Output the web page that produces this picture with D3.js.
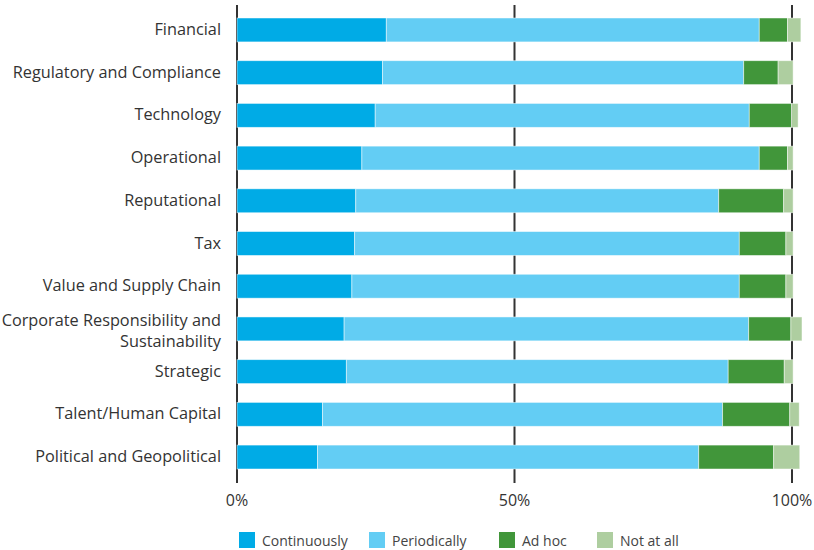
<!DOCTYPE html>
<html>
<head>
<meta charset="utf-8">
<script src="https://cdn.jsdelivr.net/npm/d3@7"></script>
<style>
  body { margin: 0; background: #fff; }
  svg text { font-family: "Open Sans", "Noto Sans", sans-serif; fill: #333; }
</style>
</head>
<body>
<svg id="chart" width="814" height="550"></svg>
<script>
// categories, top to bottom
const categories = [
    "Financial", "Regulatory and Compliance", "Technology", "Operational",
    "Reputational", "Tax", "Value and Supply Chain",
    "Corporate Responsibility and Sustainability", "Strategic",
    "Talent/Human Capital", "Political and Geopolitical"
];
const seriesNames = ["Continuously", "Periodically", "Ad hoc", "Not at all"];
const continuously = [26.9, 26.2, 24.9, 22.5, 21.4, 21.2, 20.7, 19.3, 19.7, 15.4, 14.5];
const periodically = [67.2, 65.1, 67.4, 71.6, 65.4, 69.3, 69.8, 72.9, 68.8, 72.1, 68.7];
const adHoc        = [5.1, 6.2, 7.6, 5.1, 11.7, 8.4, 8.4, 7.6, 10.1, 12.1, 13.5];
const notAtAll     = [2.4, 2.7, 1.2, 1.0, 1.7, 1.3, 1.3, 2.0, 1.6, 1.7, 4.7];
const xTicks = [0, 50, 100];
const colors = ["#00abe6", "#63cdf4", "#41963a", "#aecea0"];

const svg = d3.select("#chart");
const margin = {left: 237, top: 8.6, bottom: 71.6};

const rows = categories.map((c, i) => ({
    category: c,
    "Continuously": continuously[i],
    "Periodically": periodically[i],
    "Ad hoc": adHoc[i],
    "Not at all": notAtAll[i]
}));

const stacked = d3.stack().keys(seriesNames)(rows);

const x = d3.scaleLinear().domain([0, 100]).range([margin.left, 792]);
const y = d3.scaleBand().domain(categories)
    .range([margin.top, 550 - margin.bottom])
    .paddingInner(0.44).paddingOuter(0.22);

// vertical grid lines (behind bars)
svg.append("g")
    .selectAll("line")
    .data(xTicks)
    .join("line")
    .attr("x1", d => x(d)).attr("x2", d => x(d))
    .attr("y1", 5).attr("y2", 483)
    .attr("stroke", "#333")
    .attr("stroke-width", 2);

// bars
svg.append("g")
    .selectAll("g")
    .data(stacked)
    .join("g")
    .attr("fill", (d, i) => colors[i])
    .selectAll("rect")
    .data(d => d)
    .join("rect")
    .attr("x", d => x(d[0]))
    .attr("width", d => x(d[1]) - x(d[0]))
    .attr("y", d => y(d.data.category))
    .attr("height", y.bandwidth())
    .attr("stroke", "#fff")
    .attr("stroke-opacity", 0.6)
    .attr("stroke-width", 0.8);

// tick labels
svg.append("g")
    .selectAll("text")
    .data(xTicks)
    .join("text")
    .attr("x", d => x(d))
    .attr("y", 506)
    .attr("text-anchor", "middle")
    .attr("font-size", 16)
    .text(d => d + "%");

// category labels
const labelG = svg.append("g");
categories.forEach(c => {
    const cy = y(c) + y.bandwidth() / 2;
    const t = labelG.append("text")
        .attr("x", 221)
        .attr("text-anchor", "end")
        .attr("font-size", 16.3);
    if (c === "Corporate Responsibility and Sustainability") {
        t.append("tspan").attr("x", 221).attr("y", cy - 3).text("Corporate Responsibility and");
        t.append("tspan").attr("x", 221).attr("y", cy + 18).text("Sustainability");
    } else {
        t.attr("y", cy + 5).text(c);
    }
});

// legend
const legendX = [239, 369, 499, 597];
const legend = svg.append("g")
    .selectAll("g")
    .data(seriesNames)
    .join("g")
    .attr("transform", (d, i) => `translate(${legendX[i]},532)`);
legend.append("rect")
    .attr("width", 16).attr("height", 16)
    .attr("fill", (d, i) => colors[i]);
legend.append("text")
    .attr("x", 23).attr("y", 14)
    .attr("font-size", 14)
    .style("fill", "#444")
    .text(d => d);
</script>
</body>
</html>
